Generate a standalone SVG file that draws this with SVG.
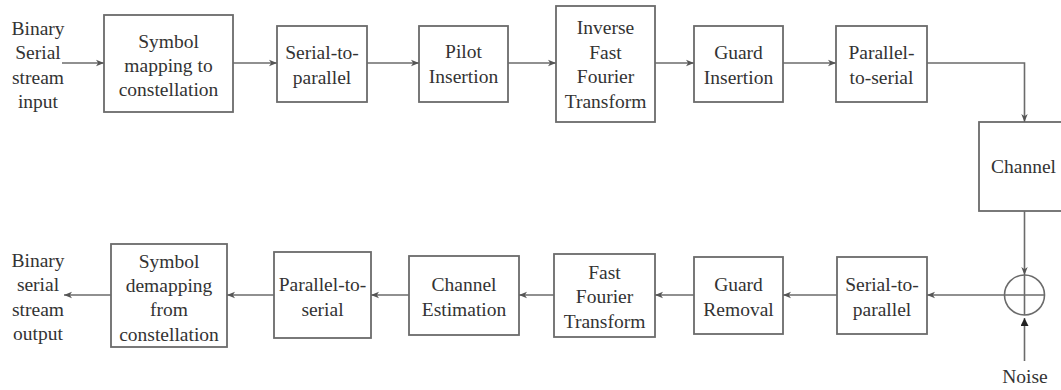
<svg xmlns="http://www.w3.org/2000/svg" width="1061" height="390" viewBox="0 0 1061 390">
  <style>
    .box { fill: #ffffff; stroke: #6b6b6b; stroke-width: 1.8; }
    .wire { fill: none; stroke: #6b6b6b; stroke-width: 1.6; }
    text { font-family: 'Liberation Serif', 'DejaVu Serif', serif; font-size: 19.5px; fill: #333333; text-anchor: middle; }
  </style>
  <defs>
    <marker id="arr" markerUnits="userSpaceOnUse" markerWidth="10" markerHeight="10" refX="8" refY="4" orient="auto">
      <path d="M0,0.8 L8,4 L0,7.2 L2.2,4 z" fill="#555555"/>
    </marker>
    <marker id="arrFill" markerUnits="userSpaceOnUse" markerWidth="10" markerHeight="10" refX="8" refY="4" orient="auto">
      <path d="M0,0 L8,4 L0,8 z" fill="#222222"/>
    </marker>
  </defs>

  <rect width="1061" height="390" fill="#ffffff"/>

  <!-- transmitter chain -->
  <g id="input" font-family="Liberation Serif">
    <text x="38" y="35">Binary</text>
    <text x="38" y="59">Serial</text>
    <text x="38" y="84">stream</text>
    <text x="38" y="108">input</text>
  </g>
  <g id="symbol-mapping">
    <rect class="box" x="104" y="15" width="129" height="97"/>
    <text x="168.5" y="48">Symbol</text>
    <text x="168.5" y="72">mapping to</text>
    <text x="168.5" y="96">constellation</text>
  </g>
  <g id="tx-serial-to-parallel">
    <rect class="box" x="277" y="26" width="90" height="76"/>
    <text x="322" y="59">Serial-to-</text>
    <text x="322" y="84">parallel</text>
  </g>
  <g id="pilot-insertion">
    <rect class="box" x="419" y="26" width="89" height="76"/>
    <text x="463.5" y="58">Pilot</text>
    <text x="463.5" y="83">Insertion</text>
  </g>
  <g id="ifft">
    <rect class="box" x="556" y="6" width="99" height="116"/>
    <text x="605.5" y="34">Inverse</text>
    <text x="605.5" y="59">Fast</text>
    <text x="605.5" y="83">Fourier</text>
    <text x="605.5" y="108">Transform</text>
  </g>
  <g id="guard-insertion">
    <rect class="box" x="694" y="26" width="89" height="76"/>
    <text x="738.5" y="59">Guard</text>
    <text x="738.5" y="84">Insertion</text>
  </g>
  <g id="tx-parallel-to-serial">
    <rect class="box" x="836" y="26" width="91" height="76"/>
    <text x="881.5" y="59">Parallel-</text>
    <text x="881.5" y="84">to-serial</text>
  </g>

  <!-- channel and noise -->
  <g id="channel">
    <rect class="box" x="979" y="122" width="100" height="89"/>
    <text x="1023.5" y="173">Channel</text>
  </g>
  <g id="adder">
    <circle cx="1024.5" cy="295" r="20" fill="none" stroke="#6b6b6b" stroke-width="1.6"/>
    <line class="wire" x1="1004.5" y1="295" x2="1044.5" y2="295"/>
    <line class="wire" x1="1024.5" y1="275" x2="1024.5" y2="315"/>
  </g>
  <g id="noise">
    <text x="1025" y="383">Noise</text>
  </g>

  <!-- receiver chain -->
  <g id="rx-serial-to-parallel">
    <rect class="box" x="837" y="257" width="90" height="77"/>
    <text x="882" y="291">Serial-to-</text>
    <text x="882" y="316">parallel</text>
  </g>
  <g id="guard-removal">
    <rect class="box" x="694" y="257" width="89" height="77"/>
    <text x="738.5" y="291">Guard</text>
    <text x="738.5" y="316">Removal</text>
  </g>
  <g id="fft">
    <rect class="box" x="554" y="254" width="101" height="83"/>
    <text x="604.5" y="279">Fast</text>
    <text x="604.5" y="303">Fourier</text>
    <text x="604.5" y="328">Transform</text>
  </g>
  <g id="channel-estimation">
    <rect class="box" x="409" y="256" width="110" height="79"/>
    <text x="464" y="291">Channel</text>
    <text x="464" y="316">Estimation</text>
  </g>
  <g id="rx-parallel-to-serial">
    <rect class="box" x="274" y="252" width="97" height="86"/>
    <text x="322.5" y="291">Parallel-to-</text>
    <text x="322.5" y="316">serial</text>
  </g>
  <g id="symbol-demapping">
    <rect class="box" x="111" y="244" width="116" height="103"/>
    <text x="169" y="268">Symbol</text>
    <text x="169" y="292">demapping</text>
    <text x="169" y="316">from</text>
    <text x="169" y="341">constellation</text>
  </g>
  <g id="output">
    <text x="38" y="267">Binary</text>
    <text x="38" y="291">serial</text>
    <text x="38" y="316">stream</text>
    <text x="38" y="340">output</text>
  </g>

  <!-- connectors -->
  <g id="connectors">
    <line class="wire" x1="62" y1="63" x2="104" y2="63" marker-end="url(#arr)"/>
    <line class="wire" x1="233" y1="63" x2="277" y2="63" marker-end="url(#arr)"/>
    <line class="wire" x1="367" y1="63" x2="419" y2="63" marker-end="url(#arr)"/>
    <line class="wire" x1="508" y1="63" x2="556" y2="63" marker-end="url(#arr)"/>
    <line class="wire" x1="655" y1="63" x2="694" y2="63" marker-end="url(#arr)"/>
    <line class="wire" x1="783" y1="63" x2="836" y2="63" marker-end="url(#arr)"/>
    <polyline class="wire" points="927,63 1024.5,63 1024.5,122" marker-end="url(#arr)"/>
    <line class="wire" x1="1024.5" y1="211" x2="1024.5" y2="275" marker-end="url(#arr)"/>
    <line class="wire" x1="1024.5" y1="361" x2="1024.5" y2="318" marker-end="url(#arrFill)"/>
    <line class="wire" x1="1004.5" y1="295" x2="927" y2="295" marker-end="url(#arr)"/>
    <line class="wire" x1="837" y1="295" x2="783" y2="295" marker-end="url(#arr)"/>
    <line class="wire" x1="694" y1="295" x2="655" y2="295" marker-end="url(#arr)"/>
    <line class="wire" x1="554" y1="295" x2="519" y2="295" marker-end="url(#arr)"/>
    <line class="wire" x1="409" y1="295" x2="371" y2="295" marker-end="url(#arr)"/>
    <line class="wire" x1="274" y1="295" x2="227" y2="295" marker-end="url(#arr)"/>
    <line class="wire" x1="111" y1="295" x2="64" y2="295" marker-end="url(#arr)"/>
  </g>
</svg>
